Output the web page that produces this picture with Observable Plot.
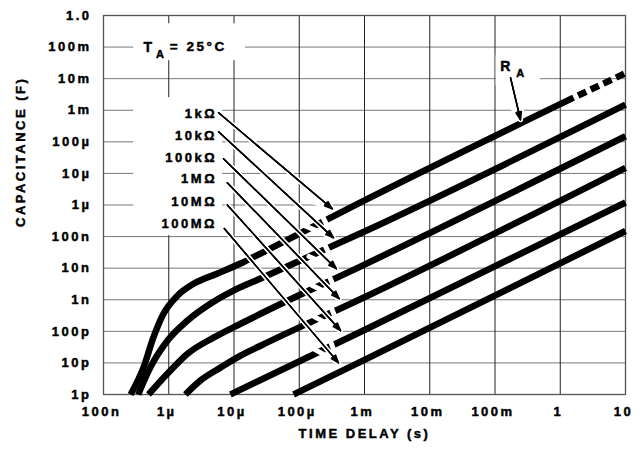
<!DOCTYPE html>
<html>
<head>
<meta charset="utf-8">
<script src="https://cdn.jsdelivr.net/npm/d3@7"></script>
<script src="https://cdn.jsdelivr.net/npm/@observablehq/plot@0.6"></script>
<style>
  body { margin: 0; background: #fff; }
  #chart svg text { letter-spacing: 2.5px; stroke: #000; stroke-width: 0.45px; }
</style>
</head>
<body>
<div id="chart"></div>
<script>
// ---- axis ticks ----
const xTicks = [1e-7, 1e-6, 1e-5, 1e-4, 1e-3, 1e-2, 1e-1, 1, 10];
const xTickLabels = ["100n", "1µ", "10µ", "100µ", "1m", "10m", "100m", "1", "10"];
const yTicks = [1e-12, 1e-11, 1e-10, 1e-9, 1e-8, 1e-7, 1e-6, 1e-5, 1e-4, 1e-3, 1e-2, 1e-1, 1];
const yTickLabels = ["1p", "10p", "100p", "1n", "10n", "100n", "1µ", "10µ", "100µ", "1m", "10m", "100m", "1.0"];

// ---- series: time delay (s) vs capacitance (F) for each R_A ----
const resistors = ["1kΩ", "10kΩ", "100kΩ", "1MΩ", "10MΩ", "100MΩ"];
const t1k   = [2.6e-7, 4.1e-7, 5.8e-7, 8.3e-7, 1.36e-6, 2.4e-6, 5.6e-6, 1.26e-5, 2.55e-5, 1e-3, 1.6];
const c1k   = [1e-12, 7.1e-12, 6.3e-11, 3.6e-10, 1.35e-9, 3.2e-9, 6.8e-9, 1.4e-8, 2.9e-8, 1.4e-6, 2.5e-3];
const t1kExt = [1.6, 10];            // dashed extension
const c1kExt = [2.5e-3, 1.5e-2];
const t10k  = [3.4e-7, 5.2e-7, 9.6e-7, 1.94e-6, 4.4e-6, 9.8e-6, 2.55e-5, 1e-3, 10];
const c10k  = [1e-12, 7.1e-12, 5.1e-11, 2.2e-10, 7.6e-10, 1.95e-9, 4.7e-9, 1.45e-7, 1.5e-3];
const t100k = [4.9e-7, 9.6e-7, 1.94e-6, 4.85e-6, 1.26e-5, 2.55e-5, 1e-3, 10];
const c100k = [1e-12, 4.6e-12, 1.96e-11, 6.3e-11, 1.74e-10, 3.6e-10, 1.3e-8, 1.5e-4];
const t1M   = [1.8e-6, 3.07e-6, 6.2e-6, 1.26e-5, 2.55e-5, 1e-3, 10];
const c1M   = [1e-12, 2.8e-12, 7.1e-12, 1.7e-11, 3.5e-11, 1.2e-9, 1.5e-5];
const t10M  = [8.8e-6, 1e-3, 10];
const c10M  = [1e-12, 1.1e-10, 1.2e-6];
const t100M = [8.2e-5, 1e-3, 10];
const c100M = [1e-12, 1.25e-11, 1.5e-7];

// ---- annotations (data units) ----
const labelT = 5.5e-6;
const labelC = [7.8e-4, 1.56e-4, 3.1e-5, 6.8e-6, 1.27e-6, 2.6e-7];
const arrowT1 = [5.8e-6, 5.8e-6, 6.9e-6, 7.9e-6, 7.9e-6, 7.1e-6];
const arrowC1 = [8.3e-4, 2.1e-4, 2.9e-5, 5.1e-6, 1.0e-6, 1.8e-7];
const arrowT2 = [3.2e-4, 3.35e-4, 3.7e-4, 4.1e-4, 4.3e-4, 4.0e-4];
const arrowC2 = [7.6e-7, 9.1e-8, 9.6e-9, 1.08e-9, 1.05e-10, 1.0e-11];
const raArrowT = [0.173, 0.246];
const raArrowC = [1.07e-2, 5.0e-4];
// white boxes behind the label blocks (T_A, resistor list, R_A)
const maskT1 = [2.9e-7, 2.9e-7, 0.104];
const maskT2 = [1.5e-5, 6.7e-6, 0.5];
const maskC1 = [0.55, 2.5e-3, 5.3e-2];
const maskC2 = [3.7e-2, 1.07e-7, 6.0e-3];

// ---- build tables ----
const series = [["1kΩ", t1k, c1k], ["10kΩ", t10k, c10k], ["100kΩ", t100k, c100k],
                ["1MΩ", t1M, c1M], ["10MΩ", t10M, c10M], ["100MΩ", t100M, c100M]];
const rows = [];
for (const [r, ts, cs] of series) ts.forEach((t, i) => rows.push({r, t, c: cs[i]}));
const extRows = t1kExt.map((t, i) => ({t, c: c1kExt[i]}));
const arrows = resistors.map((r, i) => ({t1: arrowT1[i], c1: arrowC1[i], t2: arrowT2[i], c2: arrowC2[i]}));
arrows.push({t1: raArrowT[0], c1: raArrowC[0], t2: raArrowT[1], c2: raArrowC[1]});
const masks = maskT1.map((t, i) => ({t1: t, t2: maskT2[i], c1: maskC1[i], c2: maskC2[i]}));
const resLabels = resistors.map((r, i) => ({r, t: labelT, c: labelC[i]}));

const fmt = (ticks, labels) => d => {
  let k = ticks.indexOf(d);
  if (k < 0) k = d3.minIndex(ticks, v => Math.abs(Math.log10(v) - Math.log10(d)));
  return labels[k];
};

const arrowOpts = {x1: "t1", y1: "c1", x2: "t2", y2: "c2", headLength: 9};

const chart = Plot.plot({
  width: 643,
  height: 458,
  marginLeft: 103,
  marginRight: 18,
  marginTop: 15,
  marginBottom: 64,
  x: {type: "log", domain: [1e-7, 10]},
  y: {type: "log", domain: [1e-12, 1]},
  style: {fontFamily: "'Liberation Sans', Arial, Helvetica, sans-serif", fontWeight: "bold",
          fontSize: "13px", color: "black", background: "white"},
  marks: [
    Plot.gridY({ticks: yTicks, stroke: "#777", strokeOpacity: 1, strokeWidth: 1}),
    Plot.gridX({ticks: xTicks, stroke: "#222", strokeOpacity: 1, strokeWidth: 1}),
    Plot.rect(masks, {x1: "t1", x2: "t2", y1: "c1", y2: "c2", fill: "white"}),
    Plot.frame({stroke: "#555", strokeWidth: 1.3}),
    Plot.axisX({ticks: xTicks, tickFormat: fmt(xTicks, xTickLabels), tickSize: 0, tickPadding: 12, dx: -2, label: null, fontSize: 13}),
    Plot.axisY({ticks: yTicks, tickFormat: fmt(yTicks, yTickLabels), tickSize: 0, tickPadding: 12, label: null, fontSize: 13}),
    Plot.line(rows, {x: "t", y: "c", z: "r", stroke: "black", strokeWidth: 6.5, curve: "monotone-x", strokeLinecap: "butt"}),
    Plot.line(extRows, {x: "t", y: "c", stroke: "black", strokeWidth: 6.5, strokeDasharray: "9 5", strokeDashoffset: 9, strokeLinecap: "butt"}),
    Plot.arrow(arrows, {...arrowOpts, stroke: "white", strokeWidth: 5, headAngle: 40}),
    Plot.arrow(arrows, {...arrowOpts, stroke: "black", strokeWidth: 1.4, headAngle: 40}),
    Plot.arrow(arrows, {...arrowOpts, stroke: "black", strokeWidth: 1.4, headAngle: 24}),
    Plot.arrow(arrows, {...arrowOpts, stroke: "black", strokeWidth: 1.4, headAngle: 10}),
    // labels
    Plot.text(resLabels, {x: "t", y: "c", text: "r", textAnchor: "end", fontSize: 13, fill: "black"}),
    Plot.text([{t: 5.0e-7, c: 0.1}], {x: "t", y: "c", text: () => "T", fontSize: 14, fill: "black"}),
    Plot.text([{t: 7.7e-7, c: 5.7e-2}], {x: "t", y: "c", text: () => "A", fontSize: 11, fill: "black"}),
    Plot.text([{t: 1.04e-6, c: 0.1}], {x: "t", y: "c", text: () => "= 25°C", textAnchor: "start", fontSize: 13.5, fill: "black"}),
    Plot.text([{t: 0.15, c: 2.4e-2}], {x: "t", y: "c", text: () => "R", fontSize: 14, fill: "black"}),
    Plot.text([{t: 0.255, c: 1.45e-2}], {x: "t", y: "c", text: () => "A", fontSize: 11, fill: "black"}),
    // axis titles
    Plot.text(["TIME DELAY (s)"], {frameAnchor: "bottom", dy: 43, dx: 0, text: d => d, fontSize: 13, fill: "black"}),
    Plot.text(["CAPACITANCE (F)"], {frameAnchor: "left", dx: -83, dy: 22, rotate: -90, text: d => d, fontSize: 13, fill: "black"})
  ]
});
document.getElementById("chart").appendChild(chart);
</script>
</body>
</html>
